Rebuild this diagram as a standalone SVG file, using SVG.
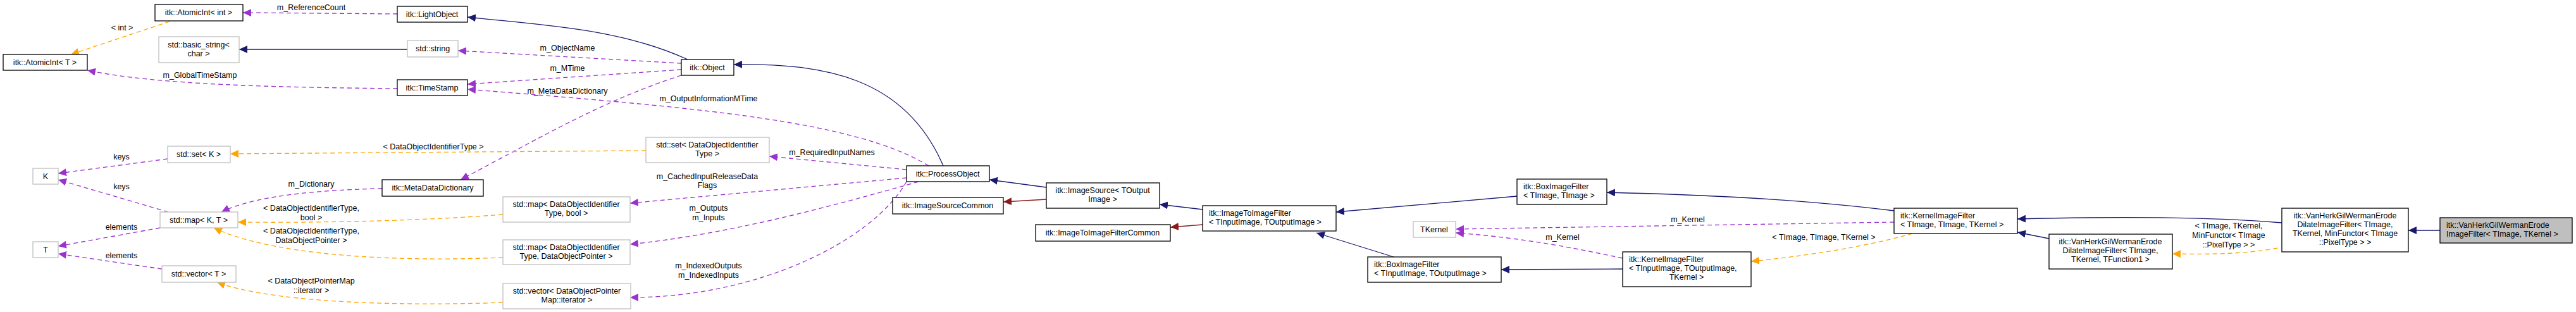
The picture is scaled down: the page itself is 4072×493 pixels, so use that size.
<svg xmlns="http://www.w3.org/2000/svg" width="4072" height="493" viewBox="0 0 4072 493">
<style>
text{font-family:"Liberation Sans",Arial,sans-serif;font-size:12.5px;fill:#000}
.c{text-anchor:middle}
.d rect{fill:#fff;stroke:#000;stroke-width:1.3}
.u rect{fill:#fff;stroke:#bfbfbf;stroke-width:1.3}
.g rect{fill:#bfbfbf;stroke:#000;stroke-width:1.3}
.e path{fill:none;stroke-width:1.3}
.inh{stroke:#191970}
.red{stroke:#8b1a1a}
.use{stroke:#9a32cd;stroke-dasharray:7,5}
.tpl{stroke:#ffa500;stroke-dasharray:7,5}
</style>
<defs>
<marker id="aN" markerUnits="userSpaceOnUse" markerWidth="14" markerHeight="12" refX="13" refY="6" orient="auto"><path d="M0,0 L13,6 L0,12 z" fill="#191970"/></marker>
<marker id="aR" markerUnits="userSpaceOnUse" markerWidth="14" markerHeight="12" refX="13" refY="6" orient="auto"><path d="M0,0 L13,6 L0,12 z" fill="#8b1a1a"/></marker>
<marker id="aP" markerUnits="userSpaceOnUse" markerWidth="14" markerHeight="12" refX="13" refY="6" orient="auto"><path d="M0,0 L13,6 L0,12 z" fill="#9a32cd"/></marker>
<marker id="aO" markerUnits="userSpaceOnUse" markerWidth="14" markerHeight="12" refX="13" refY="6" orient="auto"><path d="M0,0 L13,6 L0,12 z" fill="#ffa500"/></marker>
</defs>
<g id="edges" class="e">
<path class="tpl" d="M268,34 L112,86" marker-end="url(#aO)"/>
<path class="use" d="M628,22 L384,20" marker-end="url(#aP)"/>
<path class="inh" d="M644,78 L378,78" marker-end="url(#aN)"/>
<path class="use" d="M628,140 C450,138 250,135 138,111" marker-end="url(#aP)"/>
<path class="inh" d="M1087,94 C980,45 860,40 739,27" marker-end="url(#aN)"/>
<path class="use" d="M1077,100 L724,80" marker-end="url(#aP)"/>
<path class="use" d="M1077,110 L739,133" marker-end="url(#aP)"/>
<path class="use" d="M1468,262 C1350,190 1100,170 739,141" marker-end="url(#aP)"/>
<path class="use" d="M1077,119 C950,160 850,220 728,284" marker-end="url(#aP)"/>
<path class="inh" d="M1491,262 C1430,120 1300,100 1160,102" marker-end="url(#aN)"/>
<path class="tpl" d="M1021,238 L364,243" marker-end="url(#aO)"/>
<path class="use" d="M1433,268 L1216,247" marker-end="url(#aP)"/>
<path class="use" d="M1433,281 L996,321" marker-end="url(#aP)"/>
<path class="use" d="M1452,287 C1300,330 1150,370 996,386" marker-end="url(#aP)"/>
<path class="use" d="M1433,287 C1380,380 1200,470 996,470" marker-end="url(#aP)"/>
<path class="use" d="M265,251 L92,274" marker-end="url(#aP)"/>
<path class="use" d="M266,335 L92,284" marker-end="url(#aP)"/>
<path class="use" d="M253,360 L92,389" marker-end="url(#aP)"/>
<path class="use" d="M256,425 L92,401" marker-end="url(#aP)"/>
<path class="use" d="M604,298 C500,300 400,310 350,335" marker-end="url(#aP)"/>
<path class="tpl" d="M795,339 C650,350 500,352 376,351" marker-end="url(#aO)"/>
<path class="tpl" d="M795,407 C600,415 420,400 338,360" marker-end="url(#aO)"/>
<path class="tpl" d="M795,478 C600,485 420,475 343,446" marker-end="url(#aO)"/>
<path class="inh" d="M1654,296 L1564,284" marker-end="url(#aN)"/>
<path class="red" d="M1654,315 L1586,319" marker-end="url(#aR)"/>
<path class="inh" d="M1901,331 L1833,323" marker-end="url(#aN)"/>
<path class="red" d="M1901,355 L1850,359" marker-end="url(#aR)"/>
<path class="inh" d="M2203,406 L2081,368" marker-end="url(#aN)"/>
<path class="inh" d="M2398,310 L2112,335" marker-end="url(#aN)"/>
<path class="use" d="M2994,351 L2301,362" marker-end="url(#aP)"/>
<path class="use" d="M2565,408 C2480,390 2400,375 2301,368" marker-end="url(#aP)"/>
<path class="inh" d="M2565,425 L2373,426" marker-end="url(#aN)"/>
<path class="inh" d="M2994,333 C2850,315 2700,308 2540,304" marker-end="url(#aN)"/>
<path class="tpl" d="M3023,369 C2950,390 2850,405 2768,413" marker-end="url(#aO)"/>
<path class="inh" d="M3607,352 C3500,343 3350,342 3189,346" marker-end="url(#aN)"/>
<path class="inh" d="M3239,377 L3189,367" marker-end="url(#aN)"/>
<path class="tpl" d="M3600,392 C3550,402 3480,402 3434,401" marker-end="url(#aO)"/>
<path class="inh" d="M3857,364 L3807,364" marker-end="url(#aN)"/>
</g>
<g id="edge-labels">
<text class="c" x="193" y="48">&lt; int &gt;</text>
<text class="c" x="492" y="16">m_ReferenceCount</text>
<text class="c" x="316" y="123">m_GlobalTimeStamp</text>
<text class="c" x="192" y="252">keys</text>
<text class="c" x="192" y="299">keys</text>
<text class="c" x="192" y="363">elements</text>
<text class="c" x="192" y="408">elements</text>
<text class="c" x="492" y="295">m_Dictionary</text>
<text class="c" x="492" y="333">&lt; DataObjectIdentifierType,</text>
<text class="c" x="492" y="348">bool &gt;</text>
<text class="c" x="492" y="369">&lt; DataObjectIdentifierType,</text>
<text class="c" x="492" y="384">DataObjectPointer &gt;</text>
<text class="c" x="492" y="448">&lt; DataObjectPointerMap</text>
<text class="c" x="492" y="463">::iterator &gt;</text>
<text class="c" x="897" y="80">m_ObjectName</text>
<text class="c" x="897" y="112">m_MTime</text>
<text class="c" x="897" y="148">m_MetaDataDictionary</text>
<text class="c" x="685" y="236">&lt; DataObjectIdentifierType &gt;</text>
<text class="c" x="1120" y="160">m_OutputInformationMTime</text>
<text class="c" x="1315" y="245">m_RequiredInputNames</text>
<text class="c" x="1118" y="283">m_CachedInputReleaseData</text>
<text class="c" x="1118" y="297">Flags</text>
<text class="c" x="1120" y="333">m_Outputs</text>
<text class="c" x="1120" y="348">m_Inputs</text>
<text class="c" x="1120" y="424">m_IndexedOutputs</text>
<text class="c" x="1120" y="439">m_IndexedInputs</text>
<text class="c" x="2668" y="351">m_Kernel</text>
<text class="c" x="2470" y="379">m_Kernel</text>
<text class="c" x="2883" y="379">&lt; TImage, TImage, TKernel &gt;</text>
<text class="c" x="3523" y="361">&lt; TImage, TKernel,</text>
<text class="c" x="3523" y="376">MinFunctor&lt; TImage</text>
<text class="c" x="3523" y="391">::PixelType &gt; &gt;</text>
</g>
<g id="n_atomicint_int" class="d"><rect x="245" y="7" width="139" height="26"/><text class="c" x="314" y="24">itk::AtomicInt&lt; int &gt;</text></g>
<g id="n_atomicint_T" class="d"><rect x="5" y="86" width="133" height="25"/><text class="c" x="71" y="103">itk::AtomicInt&lt; T &gt;</text></g>
<g id="n_basic_string" class="u"><rect x="251" y="58" width="127" height="41"/><text class="c" x="314" y="75">std::basic_string&lt;</text><text class="c" x="314" y="89">char &gt;</text></g>
<g id="n_set_K" class="u"><rect x="265" y="231" width="99" height="26"/><text class="c" x="314" y="248">std::set&lt; K &gt;</text></g>
<g id="n_K" class="u"><rect x="52" y="266" width="40" height="25"/><text class="c" x="72" y="283">K</text></g>
<g id="n_map_KT" class="u"><rect x="253" y="335" width="123" height="25"/><text class="c" x="314" y="352">std::map&lt; K, T &gt;</text></g>
<g id="n_T" class="u"><rect x="52" y="382" width="40" height="25"/><text class="c" x="72" y="399">T</text></g>
<g id="n_vector_T" class="u"><rect x="256" y="420" width="117" height="26"/><text class="c" x="314" y="437">std::vector&lt; T &gt;</text></g>
<g id="n_lightobject" class="d"><rect x="628" y="10" width="111" height="25"/><text class="c" x="683" y="27">itk::LightObject</text></g>
<g id="n_string" class="u"><rect x="644" y="64" width="80" height="26"/><text class="c" x="684" y="81">std::string</text></g>
<g id="n_timestamp" class="d"><rect x="628" y="126" width="111" height="25"/><text class="c" x="683" y="143">itk::TimeStamp</text></g>
<g id="n_metadatadict" class="d"><rect x="604" y="284" width="160" height="26"/><text class="c" x="684" y="301">itk::MetaDataDictionary</text></g>
<g id="n_map_bool" class="u"><rect x="795" y="311" width="201" height="40"/><text class="c" x="895" y="327">std::map&lt; DataObjectIdentifier</text><text class="c" x="895" y="341">Type, bool &gt;</text></g>
<g id="n_map_dop" class="u"><rect x="795" y="379" width="201" height="39"/><text class="c" x="895" y="395">std::map&lt; DataObjectIdentifier</text><text class="c" x="895" y="409">Type, DataObjectPointer &gt;</text></g>
<g id="n_vector_dopmap" class="u"><rect x="795" y="448" width="202" height="40"/><text class="c" x="896" y="464">std::vector&lt; DataObjectPointer</text><text class="c" x="896" y="478">Map::iterator &gt;</text></g>
<g id="n_object" class="d"><rect x="1077" y="94" width="83" height="25"/><text class="c" x="1118" y="111">itk::Object</text></g>
<g id="n_set_doit" class="u"><rect x="1021" y="217" width="195" height="40"/><text class="c" x="1118" y="233">std::set&lt; DataObjectIdentifier</text><text class="c" x="1118" y="247">Type &gt;</text></g>
<g id="n_processobject" class="d"><rect x="1433" y="262" width="131" height="25"/><text class="c" x="1498" y="279">itk::ProcessObject</text></g>
<g id="n_imagesourcecommon" class="d"><rect x="1411" y="312" width="175" height="26"/><text class="c" x="1498" y="329">itk::ImageSourceCommon</text></g>
<g id="n_imagesource" class="d"><rect x="1654" y="289" width="179" height="40"/><text class="c" x="1743" y="305">itk::ImageSource&lt; TOutput</text><text class="c" x="1743" y="319">Image &gt;</text></g>
<g id="n_i2icommon" class="d"><rect x="1637" y="355" width="213" height="26"/><text class="c" x="1743" y="372">itk::ImageToImageFilterCommon</text></g>
<g id="n_i2ifilter" class="d"><rect x="1901" y="325" width="211" height="40"/><text x="1911" y="341">itk::ImageToImageFilter</text><text x="1911" y="355">&lt; TInputImage, TOutputImage &gt;</text></g>
<g id="n_tkernel" class="u"><rect x="2234" y="350" width="67" height="25"/><text class="c" x="2267" y="367">TKernel</text></g>
<g id="n_box_inout" class="d"><rect x="2162" y="406" width="211" height="40"/><text x="2172" y="422">itk::BoxImageFilter</text><text x="2172" y="436">&lt; TInputImage, TOutputImage &gt;</text></g>
<g id="n_box_timage" class="d"><rect x="2398" y="283" width="142" height="40"/><text x="2408" y="299">itk::BoxImageFilter</text><text x="2408" y="313">&lt; TImage, TImage &gt;</text></g>
<g id="n_kernel_inout" class="d"><rect x="2565" y="398" width="203" height="55"/><text x="2575" y="414">itk::KernelImageFilter</text><text x="2575" y="428">&lt; TInputImage, TOutputImage,</text><text class="c" x="2666" y="442">TKernel &gt;</text></g>
<g id="n_kernel_timage" class="d"><rect x="2994" y="329" width="195" height="40"/><text x="3004" y="345">itk::KernelImageFilter</text><text x="3004" y="359">&lt; TImage, TImage, TKernel &gt;</text></g>
<g id="n_vh_dilate_tf" class="d"><rect x="3239" y="370" width="195" height="55"/><text class="c" x="3336" y="386">itk::VanHerkGilWermanErode</text><text class="c" x="3336" y="400">DilateImageFilter&lt; TImage,</text><text class="c" x="3336" y="414">TKernel, TFunction1 &gt;</text></g>
<g id="n_vh_dilate_min" class="d"><rect x="3607" y="329" width="200" height="69"/><text class="c" x="3707" y="345">itk::VanHerkGilWermanErode</text><text class="c" x="3707" y="359">DilateImageFilter&lt; TImage,</text><text class="c" x="3707" y="373">TKernel, MinFunctor&lt; TImage</text><text class="c" x="3707" y="387">::PixelType &gt; &gt;</text></g>
<g id="n_vh_erode" class="g"><rect x="3857" y="344" width="209" height="40"/><text x="3867" y="360">itk::VanHerkGilWermanErode</text><text x="3867" y="374">ImageFilter&lt; TImage, TKernel &gt;</text></g>
</svg>
